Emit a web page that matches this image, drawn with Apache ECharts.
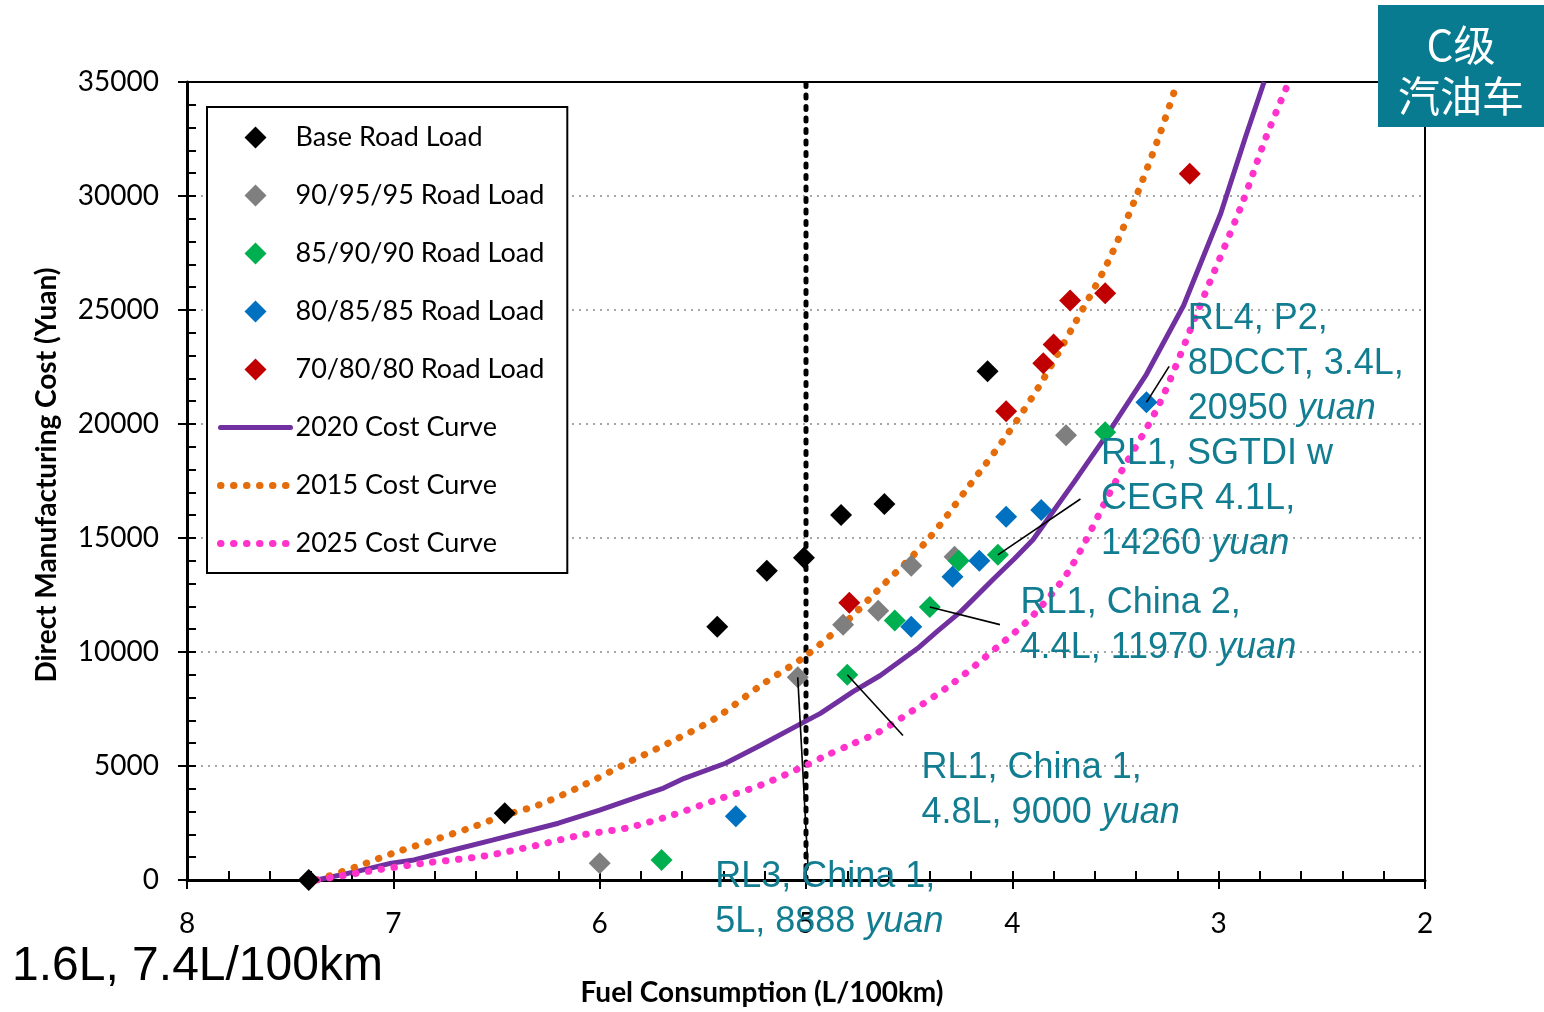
<!DOCTYPE html>
<html>
<head>
<meta charset="utf-8">
<title>C级汽油车 成本曲线</title>
<script src="https://cdn.jsdelivr.net/npm/echarts@6/dist/echarts.min.js"></script>
<style>
    html, body { margin: 0; padding: 0; background: #fff; }
    #chart { width: 1544px; height: 1012px; }
</style>
</head>
<body>
<div id="chart"></div>
<script>
// scatter groups (fuel consumption L/100km, cost yuan)
var baseX = [7.41, 6.46, 5.43, 5.19, 5.01, 4.83, 4.62, 4.12];
var baseY = [0, 2930, 11110, 13560, 14130, 16010, 16490, 22310];

var rl909595X = [6.00, 5.04, 4.82, 4.65, 4.49, 4.28, 3.74];
var rl909595Y = [740, 8888, 11200, 11810, 13780, 14180, 19510];

var rl859090X = [5.70, 4.80, 4.57, 4.40, 4.26, 4.07, 3.55];
var rl859090Y = [880, 9000, 11380, 11970, 14000, 14260, 19640];

var rl808585X = [5.34, 4.49, 4.29, 4.16, 4.03, 3.86, 3.35];
var rl808585Y = [2800, 11110, 13300, 14000, 15930, 16230, 20950];

var rl708080X = [4.79, 4.03, 3.85, 3.80, 3.72, 3.55, 3.14];
var rl708080Y = [12160, 20560, 22660, 23490, 25420, 25730, 30980];

// cost curves
var curve2020X = [7.37, 7.17, 7.01, 6.90, 6.73, 6.52, 6.20, 6.00, 5.79, 5.69, 5.59, 5.39, 5.22, 5.04, 4.93, 4.77, 4.64, 4.46, 4.36, 4.25, 4.09, 3.99, 3.90, 3.70, 3.52, 3.35, 3.17, 2.99, 2.87, 2.78];
var curve2020Y = [0, 390, 740, 880, 1270, 1750, 2490, 3060, 3720, 4030, 4460, 5120, 5910, 6780, 7310, 8270, 8970, 10150, 10940, 11770, 13210, 14090, 14920, 17460, 19820, 22180, 25200, 29230, 32590, 35000];

var curve2015X = [7.37, 7.17, 7.00, 6.82, 6.63, 6.46, 6.30, 6.09, 5.87, 5.65, 5.44, 5.22, 5.00, 4.79, 4.66, 4.41, 4.21, 4.03, 3.87, 3.70, 3.54, 3.41, 3.29, 3.20];
var curve2015Y = [0, 610, 1180, 1710, 2280, 2840, 3280, 4110, 5120, 6080, 7090, 8530, 9840, 11460, 12640, 14920, 17280, 19470, 21660, 24370, 27040, 29750, 32590, 35000];

var curve2025X = [7.37, 7.08, 6.85, 6.56, 6.30, 6.09, 5.87, 5.65, 5.44, 5.22, 5.00, 4.90, 4.79, 4.66, 4.54, 4.29, 4.07, 3.90, 3.72, 3.50, 3.29, 3.09, 2.89, 2.77, 2.66];
var curve2025Y = [0, 440, 740, 1050, 1530, 1970, 2280, 2840, 3500, 4160, 5030, 5470, 5910, 6430, 7090, 8620, 10240, 11600, 13650, 17460, 20830, 25200, 29580, 32590, 35000];

// vertical reference at 5 L/100km
var refX = [5, 5];
var refY = [0, 35000];

// annotations: anchor of text (left edge, middle) and callout segment
var noteX = [5.44, 4.44, 3.96, 3.57, 3.15];
var noteY = [-875, 3940, 11160, 16710, 22620];
var noteText = [
    ['RL3, China 1,', '5L, 8888 '],
    ['RL1, China 1,', '4.8L, 9000 '],
    ['RL1, China 2,', '4.4L, 11970 '],
    ['RL1, SGTDI w', 'CEGR 4.1L,', '14260 '],
    ['RL4, P2,', '8DCCT, 3.4L,', '20950 ']
];
var calloutFrom = [[5.04, 8888], [4.80, 9000], [4.40, 11970], [4.07, 14260], [3.35, 20950]];
var calloutTo = [[4.99, 520], [4.53, 6340], [4.06, 11200], [3.67, 16710], [3.24, 22530]];

var xTicks = { min: 2, max: 8, interval: 1 };
var yTicks = { min: 0, max: 35000, interval: 5000 };

var scatterNames = ['Base Road Load', '90/95/95 Road Load', '85/90/90 Road Load', '80/85/85 Road Load', '70/80/80 Road Load'];
var curveNames = ['2020 Cost Curve', '2015 Cost Curve', '2025 Cost Curve'];

function zip(xs, ys) {
    return xs.map(function (x, i) { return [x, ys[i]]; });
}

var tickFont = 'Lato, "Liberation Sans", sans-serif';
var noteFont = '"Liberation Sans", Arial, sans-serif';
var noteColor = '#127d91';
// legend diamond: 22x22 shape inside a 70x22 icon box (move-to corners fix the box)
var legendDiamond = 'path://M0,0M70,22M24,11L35,0L46,11L35,22Z';

function scatter(name, color, xs, ys) {
    return {
        name: name,
        type: 'scatter',
        symbol: 'diamond',
        symbolSize: 22,
        itemStyle: { color: color, opacity: 1 },
        data: zip(xs, ys),
        z: 4
    };
}

function curve(name, color, xs, ys, dotted) {
    return {
        name: name,
        type: 'line',
        showSymbol: false,
        symbol: 'none',
        smooth: dotted ? 0.3 : false,
        lineStyle: dotted
            ? { color: color, width: 7, type: [0.5, 12.5], cap: 'round' }
            : { color: color, width: 5 },
        itemStyle: { color: color },
        data: zip(xs, ys),
        z: 3
    };
}

var series = [
    scatter(scatterNames[0], '#000000', baseX, baseY),
    scatter(scatterNames[1], '#7f7f7f', rl909595X, rl909595Y),
    scatter(scatterNames[2], '#00b050', rl859090X, rl859090Y),
    scatter(scatterNames[3], '#0070c0', rl808585X, rl808585Y),
    scatter(scatterNames[4], '#c00000', rl708080X, rl708080Y),
    curve(curveNames[0], '#7030a0', curve2020X, curve2020Y, false),
    curve(curveNames[1], '#e46c0a', curve2015X, curve2015Y, true),
    curve(curveNames[2], '#ff33cc', curve2025X, curve2025Y, true),
    {
        name: 'ref',
        type: 'line',
        symbol: 'none',
        lineStyle: { color: '#000', width: 5, type: [3, 8.5], cap: 'round' },
        data: zip(refX, refY),
        z: 2
    }
];

calloutFrom.forEach(function (p, i) {
    series.push({
        name: 'callout' + i,
        type: 'line',
        symbol: 'none',
        lineStyle: { color: '#000', width: 1.6 },
        data: [p, calloutTo[i]],
        z: 5
    });
});

series.push({
    name: 'notes',
    type: 'scatter',
    symbolSize: 0,
    clip: false,
    silent: true,
    z: 10,
    itemStyle: { opacity: 1 },
    data: zip(noteX, noteY),
    label: {
        show: true,
        position: 'right',
        distance: 0,
        opacity: 1,
        formatter: function (p) {
            var lines = noteText[p.dataIndex];
            return lines.map(function (t, k) {
                return k === lines.length - 1 ? '{n|' + t + '}{i|yuan}' : '{n|' + t + '}';
            }).join('\n');
        },
        rich: {
            n: { fontFamily: noteFont, fontSize: 36, color: noteColor, lineHeight: 45 },
            i: { fontFamily: noteFont, fontSize: 36, fontStyle: 'italic', color: noteColor, lineHeight: 45 }
        }
    }
});

// legend entries: diamonds keep their shape, curve icons show only the line
var legendData = scatterNames.map(function (n) {
    return { name: n, icon: legendDiamond };
}).concat(curveNames.map(function (n) {
    return { name: n, itemStyle: { color: 'rgba(0,0,0,0)', opacity: 0 } };
}));

var xBase = {
    type: 'value',
    inverse: true,
    min: xTicks.min,
    max: xTicks.max,
    interval: xTicks.interval
};
var yBase = {
    type: 'value',
    min: yTicks.min,
    max: yTicks.max,
    interval: yTicks.interval
};

var option = {
    animation: false,
    backgroundColor: '#fff',
    grid: {
        left: 187, right: 119, top: 82, bottom: 130,
        show: true, borderColor: '#000', borderWidth: 2, backgroundColor: 'transparent'
    },
    legend: {
        orient: 'vertical',
        left: 207,
        top: 107,
        padding: [17, 23, 16, 10],
        itemGap: 31,
        itemWidth: 70,
        itemHeight: 22,
        backgroundColor: '#fff',
        borderColor: '#000',
        borderWidth: 2,
        lineStyle: { width: 'inherit', type: 'inherit', cap: 'round' },
        textStyle: { fontFamily: tickFont, fontSize: 27, color: '#000' },
        data: legendData,
        z: 8
    },
    xAxis: [
        Object.assign({}, xBase, {
            name: 'Fuel Consumption (L/100km)',
            nameLocation: 'middle',
            nameGap: 99,
            nameTextStyle: {
                fontFamily: tickFont, fontSize: 28, fontWeight: 'bold', color: '#000',
                padding: [0, 88, 0, 0]
            },
            axisLine: { show: true, lineStyle: { color: '#000', width: 3 } },
            axisTick: { show: true, inside: true, length: 9, lineStyle: { color: '#000', width: 2 } },
            minorTick: { show: true, splitNumber: 5, length: 9, lineStyle: { color: '#000', width: 2 } },
            axisLabel: { fontFamily: tickFont, fontSize: 28, color: '#000', margin: 30 },
            splitLine: { show: false }
        }),
        Object.assign({}, xBase, {
            position: 'bottom',
            axisLine: { show: false },
            axisTick: { show: true, inside: false, length: 9, lineStyle: { color: '#000', width: 2 } },
            axisLabel: { show: false },
            splitLine: { show: false }
        })
    ],
    yAxis: [
        Object.assign({}, yBase, {
            name: 'Direct Manufacturing Cost (Yuan)',
            nameLocation: 'middle',
            nameGap: 126,
            nameTextStyle: {
                fontFamily: tickFont, fontSize: 28, fontWeight: 'bold', color: '#000',
                padding: [0, 0, 0, 12]
            },
            axisLine: { show: true, lineStyle: { color: '#000', width: 3 } },
            axisTick: { show: true, inside: true, length: 9, lineStyle: { color: '#000', width: 2 } },
            minorTick: { show: true, splitNumber: 5, length: 9, lineStyle: { color: '#000', width: 2 } },
            axisLabel: {
                fontFamily: tickFont, fontSize: 28, color: '#000', margin: 28,
                formatter: function (v) { return String(v); }
            },
            splitLine: {
                show: true, showMinLine: false, showMaxLine: false,
                lineStyle: { color: '#a6a6a6', width: 2, type: [2, 5] }
            }
        }),
        Object.assign({}, yBase, {
            position: 'left',
            axisLine: { show: false },
            axisTick: { show: true, inside: false, length: 9, lineStyle: { color: '#000', width: 2 } },
            axisLabel: { show: false },
            splitLine: { show: false }
        })
    ],
    graphic: [
        {
            type: 'rect',
            left: 1378, top: 5,
            shape: { width: 166, height: 122 },
            style: { fill: '#087b91' },
            z: 20
        },
        {
            type: 'text',
            x: 1461, y: 45,
            style: {
                text: 'C级', fill: '#fff', fontSize: 42,
                fontFamily: '"Noto Sans CJK SC", serif',
                textAlign: 'center', textVerticalAlign: 'middle'
            },
            z: 21
        },
        {
            type: 'text',
            x: 1461, y: 96,
            style: {
                text: '汽油车', fill: '#fff', fontSize: 42,
                fontFamily: '"Noto Sans CJK SC", serif',
                textAlign: 'center', textVerticalAlign: 'middle'
            },
            z: 21
        },
        {
            type: 'text',
            x: 12, y: 967,
            style: {
                text: '1.6L, 7.4L/100km', fill: '#000', fontSize: 48,
                fontFamily: noteFont,
                textAlign: 'left', textVerticalAlign: 'middle'
            },
            z: 21
        }
    ],
    series: series
};

var myChart = echarts.init(document.getElementById('chart'));
myChart.setOption(option);
</script>
</body>
</html>
